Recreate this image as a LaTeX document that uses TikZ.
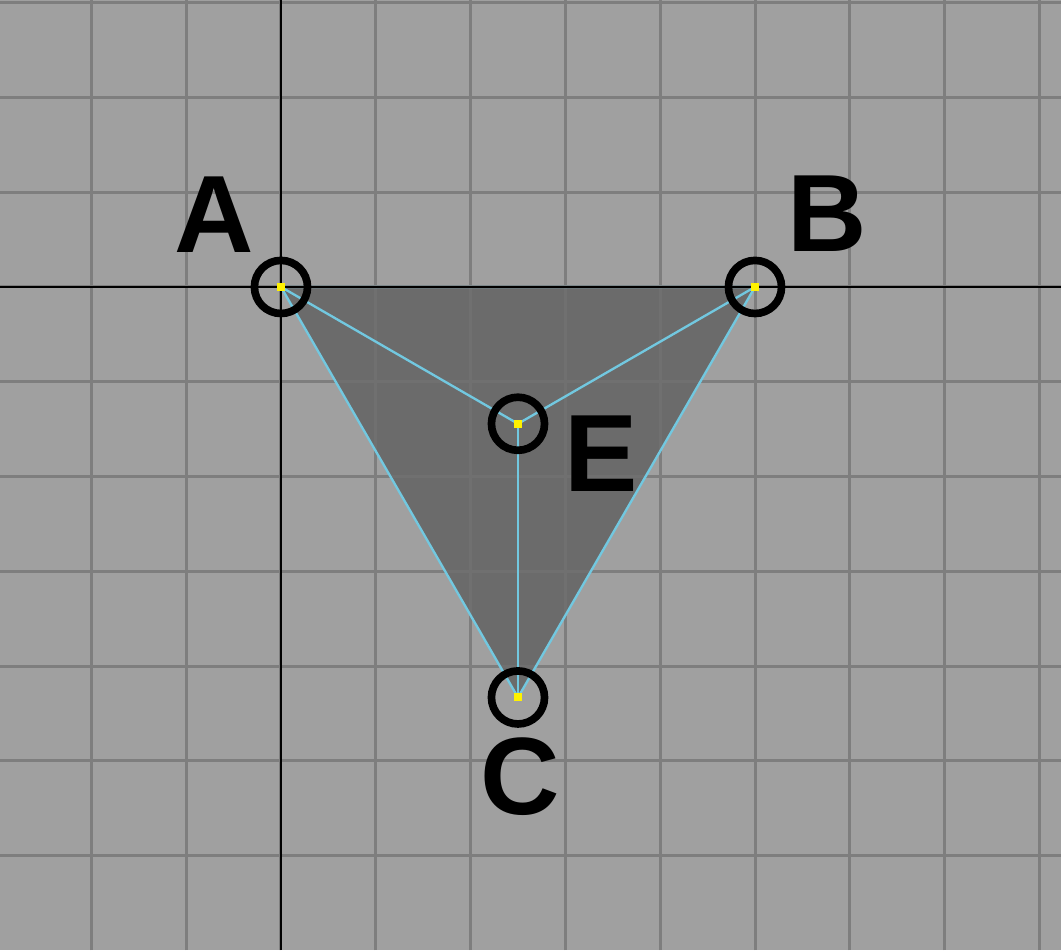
\documentclass[tikz,border=0pt]{standalone}
\usepackage{fontspec}
\newfontfamily\lblfont{Liberation Sans}
\definecolor{bgGray}{HTML}{A0A0A0}
\definecolor{gridGray}{HTML}{7E7E7E}
\definecolor{faceGray}{HTML}{6B6B6B}
\definecolor{edgeCyan}{HTML}{72C8E0}
\begin{document}
\begin{tikzpicture}[
    vtx/.style={draw,circle,line width=2.3pt,minimum size=0.56cm,inner sep=0pt},
    pin/.style={fill=yellow,minimum size=0.085cm,inner sep=0pt},
    edge/.style={edgeCyan,line width=0.7pt},
    lbl/.style={font=\lblfont\fontsize{33}{40}\selectfont\bfseries,inner sep=0pt}
  ]
    \useasboundingbox (-2.964,-6.994) rectangle (8.228,3.027);
    \fill[bgGray] (-2.964,-6.994) rectangle (8.228,3.027);
    \coordinate (a) at (0,0);
    \coordinate (b) at (5,0);
    \coordinate (c) at (2.5,-4.33);
    \coordinate (e) at (2.5,-1.443);
    \fill[faceGray] (a) -- (b) -- (c) -- cycle;
    \draw[gridGray,line width=0.9pt] (-2.964,-6.994) grid (8.228,3.027);
    \fill[faceGray,opacity=0.7] (a) -- (b) -- (c) -- cycle;
    \draw[edge] (a) -- (b) -- (c) -- cycle;
    \draw[black,line width=0.8pt] (-2.964,0) -- (8.228,0);
    \draw[black,line width=0.8pt] (0,-6.994) -- (0,3.027);
    \draw[edge] (a) -- (e);
    \draw[edge] (b) -- (e);
    \draw[edge] (c) -- (e);
    \node[pin] (pa) at (a) {};
    \node[pin] (pb) at (b) {};
    \node[pin] (pc) at (c) {};
    \node[pin] (pe) at (e) {};
    \node[vtx] (A) at (a) {};
    \node[vtx] (B) at (b) {};
    \node[vtx] (C) at (c) {};
    \node[vtx] (E) at (e) {};
    \node[lbl] (labA) at (-0.70,0.76) {A};
    \node[lbl] (labB) at (5.765,0.77) {B};
    \node[lbl] (labE) at (3.376,-1.76) {E};
    \node[lbl] (labC) at (2.52,-5.17) {C};
\end{tikzpicture}
\end{document}
